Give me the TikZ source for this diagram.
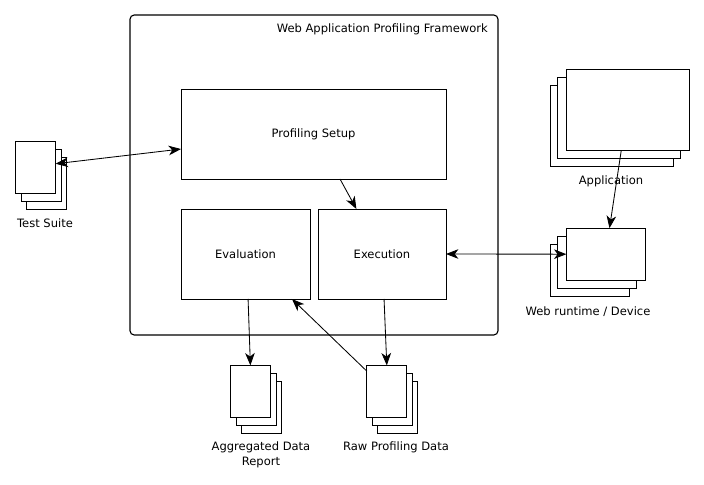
\documentclass[tikz,border=0pt]{standalone}
\usepackage{fontspec}
\setmainfont{DejaVu Sans}
\usetikzlibrary{arrows.meta,calc}
\tikzset{
  frame/.style={draw,line width=0.8pt,rounded corners=3pt,minimum width=9.2cm,minimum height=8cm,inner sep=0pt,outer sep=0pt},
  block/.style={draw,line width=0.7pt,fill=white,minimum height=2.25cm,inner sep=0pt,outer sep=0pt},
  sheet/.style={draw,line width=0.8pt,fill=white,inner sep=0pt,outer sep=0pt},
  link/.style={line width=0.6pt,-{Stealth[length=3.1mm,width=2.4mm,inset=0.9mm]}},
  twoway/.style={line width=0.6pt,{Stealth[length=3.1mm,width=2.4mm,inset=0.9mm]}-{Stealth[length=3.1mm,width=2.4mm,inset=0.9mm]}},
}
\newcommand{\sheetstack}[6]{% name, centre, width, height, middle and back offset
  \node[sheet,minimum width=#3cm,minimum height=#4cm] (#1back) at ($(#2)+(#6,-0.4)$) {};
  \node[sheet,minimum width=#3cm,minimum height=#4cm] (#1mid) at ($(#2)+(#5,-0.2)$) {};
  \node[sheet,minimum width=#3cm,minimum height=#4cm] (#1) at (#2) {};}
\begin{document}
\begin{tikzpicture}[font=\fontsize{8.2}{10.6}\selectfont]
\useasboundingbox (0,0) rectangle (17.6,12.125);
\node[frame] (fw) at (7.85,7.75) {};
\node[anchor=east,inner sep=0pt] (fwtitle) at (12.2,11.4) {Web Application Profiling Framework};
\node[block,minimum width=6.625cm] (setup) at (7.8375,8.775) {Profiling Setup};
\node[block,minimum width=3.225cm] (eval) at (6.1375,5.775) {Evaluation};
\node[block,minimum width=3.2cm] (exec) at (9.55,5.775) {Execution};
\sheetstack{suite}{0.89,7.94}{1}{1.3}{0.15}{0.275}
\sheetstack{app}{15.695,9.38}{3.075}{2.025}{-0.225}{-0.4}
\sheetstack{web}{15.15,5.77}{1.98}{1.3}{-0.225}{-0.4}
\sheetstack{agg}{6.26,2.34}{1}{1.3}{0.15}{0.275}
\sheetstack{raw}{9.67,2.34}{1}{1.3}{0.15}{0.275}
\node (suitelabel) at (1.125,6.54) {Test Suite};
\node (applabel) at (15.275,7.59) {Application};
\node (weblabel) at (14.7,4.34) {Web runtime / Device};
\node[align=center] (agglabel) at (6.525,0.75) {Aggregated Data\\Report};
\node (rawlabel) at (9.9,0.94) {Raw Profiling Data};
\draw[twoway] ($(suite.north east)!0.43!(suite.south east)$)--($(setup.north west)!0.667!(setup.south west)$);
\draw[link] ($(setup.south west)!0.6!(setup.south east)$)--($(exec.north west)!0.3!(exec.north east)$);
\draw[link] ($(eval.south west)!0.52!(eval.south east)$)--(agg.north);
\draw[link] ($(exec.south west)!0.516!(exec.south east)$)--(raw.north);
\draw[link] ($(raw.north west)!0.11!(raw.south west)$)--($(eval.south west)!0.86!(eval.south east)$);
\draw[link] ($(app.south west)!0.447!(app.south east)$)--($(web.north west)!0.544!(web.north east)$);
\draw[twoway] (exec.east)--(web.west);
\end{tikzpicture}
\end{document}
